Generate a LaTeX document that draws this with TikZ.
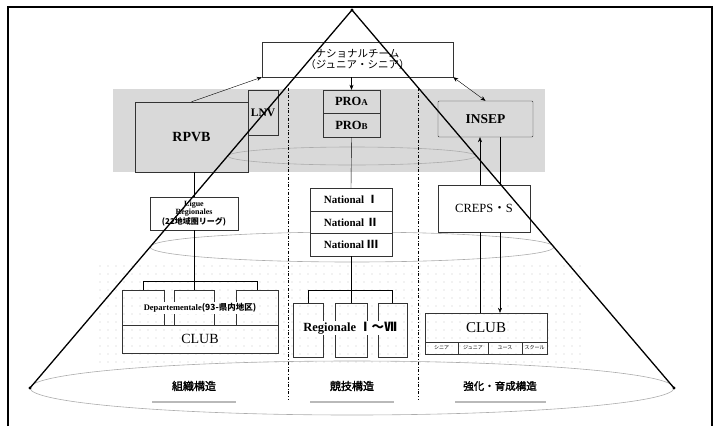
\documentclass[tikz,border=0pt]{standalone}
\usepackage{fontspec}
\setmainfont{Liberation Serif}
\newfontfamily\jp{Noto Sans CJK JP}
\newfontfamily\jpgras[FakeBold=2]{Noto Sans CJK JP}
\usetikzlibrary{arrows.meta}

\tikzset{
  every node/.style={font=\fontsize{11}{12}\selectfont\bfseries, inner sep=1pt},
  boite/.style={draw=black!80, thin, fill=white},
  boitegris/.style={draw=black!80, thin},
  colonne/.style={draw=black!80, thin},
  coupe/.style={gray!65, line width=0.6pt},
  cone/.style={line width=1.3pt, line cap=round},
  fleche/.style={-{Stealth[length=5pt,width=4pt]}},
  soul/.style={line width=2.6pt, gray!55},
  legende/.style={font=\jpgras\fontsize{11}{12}\selectfont},
  categorie/.style={colonne, font=\jp\fontsize{5}{5}\selectfont},
}

\begin{document}
\begin{tikzpicture}[x=1pt,y=-1pt]
\useasboundingbox (0,0) rectangle (720,426);
%cadre
\draw[line width=1.2pt] (8,426) -- (8,7) -- (712,7) -- (712,426);

%bande grise et trame
\fill[gray!30] (113,89) rectangle (545,172);
\foreach \x in {100,108,...,580}
  \foreach \y in {266,274,...,362}
    \fill[gray!45] (\x,\y) circle (0.55);

%coupes du cone
\draw[coupe] (352,156) ellipse (124 and 9);
\draw[coupe] (352,247) ellipse (202 and 15);
\draw[coupe] (352,388) ellipse (322 and 27);

%separations
\draw[thin, dash dot] (288,88) -- (288,400);
\draw[thin, dash dot] (418,88) -- (418,400);

%niveau superieur
\node[boite, minimum width=191pt, minimum height=35pt, align=center, font=\jp\fontsize{10.5}{12}\selectfont] (equipe) at (357.5,59.5)
  {ナショナルチーム\\[-1pt]（ジュニア・シニア）};
\node[boitegris, minimum width=113pt, minimum height=70pt, font=\fontsize{14}{15}\selectfont\bfseries] (rpvb) at (191.5,137) {RPVB};
\node[boitegris, minimum width=30pt, minimum height=45pt, inner sep=0pt, font=\fontsize{11.5}{12}\selectfont\bfseries] (lnv) at (263,112.5) {LNV};
\node[boitegris, minimum width=57pt, minimum height=23pt, font=\fontsize{12.5}{13}\selectfont\bfseries] (proa) at (351.5,101.5) {PRO{\fontsize{9}{9}\selectfont A}};
\node[boitegris, minimum width=57pt, minimum height=24pt, font=\fontsize{12.5}{13}\selectfont\bfseries] (prob) at (351.5,125) {PRO{\fontsize{9}{9}\selectfont B}};
\node[boitegris, minimum width=95pt, minimum height=36pt, rounded corners=1pt, font=\fontsize{13.5}{14}\selectfont\bfseries] (insep) at (485.5,119) {INSEP};

%niveau moyen
\node[boite, minimum width=88pt, minimum height=33pt, align=center, font=\fontsize{8}{8.5}\selectfont\bfseries] (ligue) at (194,213.5)
  {Ligue\\R\'egionales\\{\jp (22地域圏リーグ)}};
\node[boite, minimum width=82pt, minimum height=23pt] (nat1) at (351,199.5) {National {\jp Ⅰ}};
\node[boite, minimum width=82pt, minimum height=22pt] (nat2) at (351,222) {National {\jp Ⅱ}};
\node[boite, minimum width=82pt, minimum height=23pt] (nat3) at (351,244.5) {National {\jp Ⅲ}};
\node[boite, minimum width=92pt, minimum height=47pt, font=\fontsize{12.5}{13}\selectfont] (creps) at (484,208.5) {CREPS{\jp ・}S};

%niveau inferieur
\node[colonne, minimum width=42pt, minimum height=35pt] (col1) at (143,307.5) {};
\node[colonne, minimum width=40pt, minimum height=35pt] (col2) at (194,307.5) {};
\node[colonne, minimum width=42pt, minimum height=35pt] (col3) at (257,307.5) {};
\node[colonne, minimum width=156pt, minimum height=28pt, font=\fontsize{14}{15}\selectfont] (clubg) at (200,339) {CLUB};
\node[fill=white, font=\fontsize{8.5}{9}\selectfont\bfseries] (dep) at (200,308) {Departementale{\jp (93-県内地区)}};

\node[colonne, minimum width=30pt, minimum height=54pt] (reg1) at (308,330) {};
\node[colonne, minimum width=32pt, minimum height=54pt] (reg2) at (351,330) {};
\node[colonne, minimum width=29pt, minimum height=54pt] (reg3) at (392.5,330) {};
\node[fill=white, font=\fontsize{12.5}{13}\selectfont\bfseries] (reg) at (350,328) {Regionale {\jp Ⅰ～Ⅶ}};

\node[colonne, minimum width=122pt, minimum height=29pt, font=\fontsize{15}{16}\selectfont] (clubd) at (486,327.5) {CLUB};
\node[categorie, minimum width=33pt, minimum height=12pt] (cat1) at (441.5,348) {シニア};
\node[categorie, minimum width=30pt, minimum height=12pt] (cat2) at (473,348) {ジュニア};
\node[categorie, minimum width=34pt, minimum height=12pt] (cat3) at (505,348) {ユース};
\node[categorie, minimum width=25pt, minimum height=12pt] (cat4) at (534.5,348) {スクール};

%liaisons
\coordinate (l1) at (480,0);
\coordinate (l2) at (500,0);
\coordinate (bg) at (194,281);
\coordinate (bm) at (351,290);
\draw[fleche] (rpvb.north) -- (equipe.south west);
\draw[{Stealth[length=5pt,width=4pt]}-{Stealth[length=5pt,width=4pt]}] (equipe.south east) -- (insep.north);
\draw[fleche] (equipe.south -| proa.north) -- (proa.north);
\draw (prob.south) -- (nat1.north);
\draw (rpvb.south -| ligue.north) -- (ligue.north);
\draw (ligue.south) -- (col2.north);
\draw (col1.north) |- (col3.north |- bg) -- (col3.north);
\draw (nat3.south) -- (reg2.north);
\draw (reg1.north) |- (reg3.north |- bm) -- (reg3.north);
\draw[fleche] (creps.north -| l1) -- (insep.south -| l1);
\draw (insep.south -| l2) -- (creps.north -| l2);
\draw (creps.south -| l1) -- (clubd.north -| l1);
\draw[fleche] (creps.south -| l2) -- (clubd.north -| l2);

%cone
\coordinate (sommet) at (352,10);
\coordinate (baseg) at (30,388);
\coordinate (based) at (674,388);
\draw[cone] (baseg) -- (sommet) -- (based);
\fill (sommet) circle (1.6);
\fill (baseg) circle (1.6);
\fill (based) circle (1.6);

%legendes
\node[legende] (leg1) at (194,386) {組織構造};
\node[legende] (leg2) at (352,386) {競技構造};
\node[legende, font=\jpgras\fontsize{10.5}{11}\selectfont] (leg3) at (500,386) {強化・育成構造};
\draw[soul] (152,402) -- (236,402);
\draw[soul] (310,402) -- (394,402);
\draw[soul] (455,402) -- (546,402);
\end{tikzpicture}
\end{document}
